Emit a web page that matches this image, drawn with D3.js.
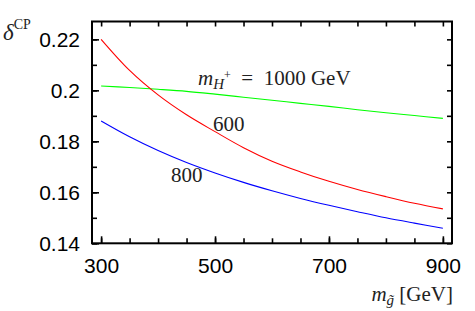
<!DOCTYPE html>
<html>
<head>
<meta charset="utf-8">
<script src="https://cdn.jsdelivr.net/npm/d3@7"></script>
<style>
  body { margin: 0; background: #fff; }
  svg { display: block; }
</style>
</head>
<body>
<div id="chart"></div>
<script>
// gluino mass grid (GeV)
const gluinoMass = [300, 350, 400, 450, 500, 550, 600, 650, 700, 750, 800, 850, 900];

// delta^CP for each charged Higgs mass
const delta1000 = [0.2017, 0.2011, 0.2004, 0.1996, 0.1985, 0.1973, 0.1961, 0.1949, 0.1937, 0.1924, 0.1912, 0.1901, 0.1890];
const delta600 = [0.2200, 0.2078, 0.1982, 0.1904, 0.1838, 0.1775, 0.1722, 0.1680, 0.1643, 0.1611, 0.1583, 0.1557, 0.1535];
const delta800 = [0.1880, 0.1818, 0.1764, 0.1717, 0.1676, 0.1639, 0.1606, 0.1576, 0.1549, 0.1524, 0.1500, 0.1479, 0.1459];

const series = [
  { name: '1000', color: '#00ff00', values: delta1000 },
  { name: '600', color: '#ff0000', values: delta600 },
  { name: '800', color: '#0000ff', values: delta800 }
];

const xMajor = [300, 500, 700, 900];
const yMajor = [0.14, 0.16, 0.18, 0.2, 0.22];

const width = 475, height = 311;
const margin = { top: 21.5, right: 23, bottom: 67.7, left: 92 };
const innerW = width - margin.left - margin.right;
const innerH = height - margin.top - margin.bottom;

const svg = d3.select('#chart').append('svg')
  .attr('width', width)
  .attr('height', height);

const g = svg.append('g')
  .attr('transform', `translate(${margin.left},${margin.top})`);

const x = d3.scaleLinear().domain([284, 916]).range([0, innerW]);
const y = d3.scaleLinear().domain([0.14, 0.227]).range([innerH, 0]);

const xMinor = d3.range(300, 901, 50);
const yMinor = d3.range(0.14, 0.2261, 0.01);

const sans = '"Liberation Sans", Arial, sans-serif';
const serif = '"Liberation Serif", "DejaVu Serif", serif';

function styleAxis(sel) {
  sel.select('.domain').remove();
  sel.selectAll('line').attr('stroke', '#000').attr('stroke-width', 1.6);
  sel.selectAll('text').attr('font-family', sans).attr('font-size', 21).attr('fill', '#000');
}

// minor ticks (all four sides)
g.append('g').attr('transform', `translate(0,${innerH})`)
  .call(d3.axisBottom(x).tickValues(xMinor).tickSize(-5).tickFormat(''))
  .call(styleAxis);
g.append('g')
  .call(d3.axisTop(x).tickValues(xMinor).tickSize(-5).tickFormat(''))
  .call(styleAxis);
g.append('g')
  .call(d3.axisLeft(y).tickValues(yMinor).tickSize(-5).tickFormat(''))
  .call(styleAxis);
g.append('g').attr('transform', `translate(${innerW},0)`)
  .call(d3.axisRight(y).tickValues(yMinor).tickSize(-5).tickFormat(''))
  .call(styleAxis);

// major ticks with labels
g.append('g').attr('transform', `translate(0,${innerH})`)
  .call(d3.axisBottom(x).tickValues(xMajor).tickSize(-7).tickPadding(15).tickFormat(d3.format('d')))
  .call(styleAxis);
g.append('g')
  .call(d3.axisLeft(y).tickValues(yMajor).tickSize(-7).tickPadding(12).tickFormat(d => String(+d.toFixed(2))))
  .call(styleAxis);

// frame
g.append('rect')
  .attr('width', innerW)
  .attr('height', innerH)
  .attr('fill', 'none')
  .attr('stroke', '#000')
  .attr('stroke-width', 2);

// curves
const line = d3.line()
  .x((d, i) => x(gluinoMass[i]))
  .y(d => y(d))
  .curve(d3.curveCatmullRom);

g.append('g')
  .selectAll('path')
  .data(series)
  .join('path')
  .attr('d', d => line(d.values))
  .attr('fill', 'none')
  .attr('stroke', d => d.color)
  .attr('stroke-width', 1.1);

// curve labels
const lab = svg.append('g')
  .attr('font-family', serif)
  .attr('fill', '#222');

const mh = lab.append('text').attr('x', 198).attr('y', 85).attr('font-size', 21);
mh.append('tspan').attr('font-style', 'italic').text('m');
mh.append('tspan').attr('font-style', 'italic').attr('font-size', 15).attr('dy', 4).text('H');
mh.append('tspan').attr('font-size', 12).attr('dy', -10).text('+');
mh.append('tspan').attr('dy', 6).text('\u2002=\u20021000 GeV');

lab.append('text').attr('x', 213).attr('y', 130.7).attr('font-size', 21).text('600');
lab.append('text').attr('x', 171).attr('y', 181.7).attr('font-size', 21).text('800');

// axis titles
const xt = lab.append('text')
  .attr('x', 453).attr('y', 301).attr('text-anchor', 'end').attr('font-size', 21);
xt.append('tspan').attr('font-style', 'italic').text('m');
xt.append('tspan').attr('font-style', 'italic').attr('font-size', 15).attr('dy', 4).text('g\u0303');
xt.append('tspan').attr('dy', -4).text(' [GeV]');

const yt = lab.append('text').attr('x', 3).attr('y', 40).attr('font-size', 23);
yt.append('tspan').attr('font-style', 'italic').text('δ');
yt.append('tspan').attr('font-size', 14).attr('dy', -11).text('CP');
</script>
</body>
</html>
